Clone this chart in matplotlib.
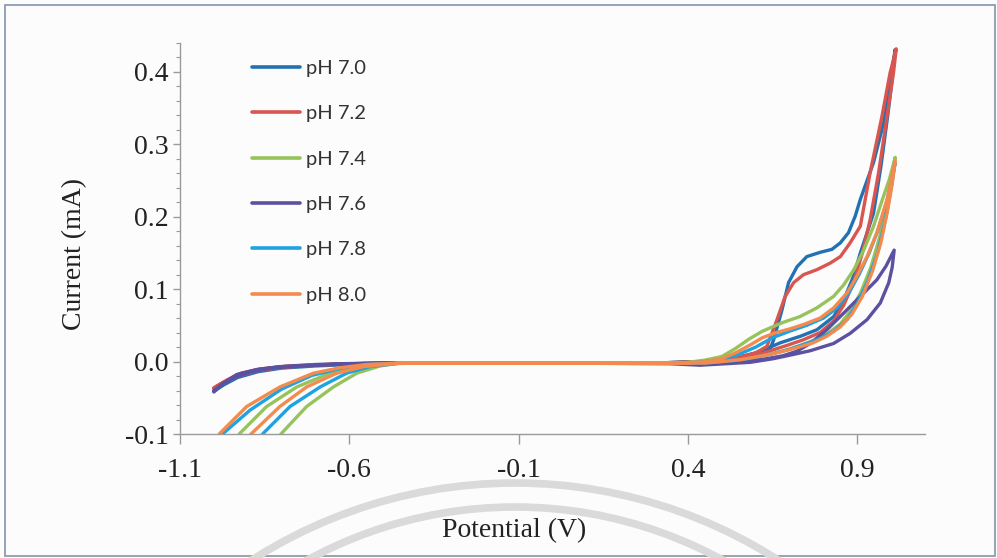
import numpy as np
import matplotlib
matplotlib.use("Agg")
import matplotlib.pyplot as plt
from matplotlib.patches import Arc, Rectangle
from matplotlib.ticker import MultipleLocator

# --- data (potential in V, current in mA) ---
labels = ["pH 7.0", "pH 7.2", "pH 7.4", "pH 7.6", "pH 7.8", "pH 8.0"]

E_70 = [-1.0, -0.97, -0.93, -0.87, -0.80, -0.70, -0.60, -0.50, -0.40, 0.0, 0.30, 0.45, 0.55, 0.60,
        0.622, 0.643, 0.653, 0.678, 0.697, 0.722, 0.751, 0.791, 0.825, 0.850, 0.874, 0.894, 0.909,
        0.948, 0.978, 1.012,
        1.003, 0.99, 0.97, 0.948, 0.929, 0.909, 0.889, 0.860, 0.830, 0.781, 0.732, 0.673, 0.643,
        0.60, 0.55, 0.50, 0.45, 0.30, 0.0, -0.40, -0.50, -0.60, -0.70, -0.80, -0.87, -0.93, -0.97, -1.0]
I_70 = [-0.040, -0.029, -0.018, -0.011, -0.007, -0.004, -0.003, -0.002, -0.002, -0.002, -0.002, 0.0, 0.006, 0.010,
        0.013, 0.018, 0.030, 0.072, 0.109, 0.131, 0.145, 0.151, 0.155, 0.164, 0.178, 0.201, 0.224,
        0.275, 0.330, 0.431,
        0.390, 0.340, 0.270, 0.205, 0.178, 0.150, 0.118, 0.085, 0.062, 0.044, 0.035, 0.026, 0.020,
        0.012, 0.006, 0.002, 0.0, -0.002, -0.002, -0.002, -0.003, -0.004, -0.006, -0.009, -0.014, -0.022, -0.032, -0.041]

E_72 = [-1.0, -0.96, -0.92, -0.86, -0.78, -0.68, -0.58, -0.50, -0.40, 0.0, 0.30, 0.45, 0.55, 0.60,
        0.633, 0.663, 0.687, 0.712, 0.741, 0.781, 0.820, 0.850, 0.879, 0.909, 0.938, 0.973, 0.997, 1.015,
        1.007, 0.988, 0.963, 0.938, 0.915, 0.89, 0.86, 0.83, 0.79, 0.74, 0.69, 0.65, 0.61, 0.56,
        0.50, 0.45, 0.30, 0.0, -0.40, -0.50, -0.60, -0.70, -0.80, -0.88, -0.94, -0.98, -1.0]
I_72 = [-0.036, -0.025, -0.016, -0.010, -0.006, -0.004, -0.003, -0.002, -0.002, -0.002, -0.002, 0.0, 0.006, 0.012,
        0.021, 0.058, 0.090, 0.109, 0.120, 0.127, 0.136, 0.145, 0.164, 0.187, 0.261, 0.339, 0.399, 0.432,
        0.399, 0.339, 0.261, 0.196, 0.150, 0.110, 0.078, 0.056, 0.040, 0.030, 0.022, 0.016, 0.010, 0.005,
        0.001, -0.001, -0.002, -0.002, -0.002, -0.002, -0.003, -0.005, -0.008, -0.013, -0.022, -0.031, -0.037]

E_74 = [-0.95, -0.923, -0.844, -0.755, -0.657, -0.568, -0.50, -0.45, 0.0, 0.35, 0.40, 0.45, 0.50, 0.54,
        0.58, 0.62, 0.65, 0.68, 0.73, 0.78, 0.83, 0.86, 0.89, 0.92, 0.948, 0.975, 0.995, 1.012,
        1.0, 0.985, 0.965, 0.94, 0.91, 0.88, 0.85, 0.81, 0.77, 0.73, 0.69, 0.65, 0.60, 0.55,
        0.50, 0.45, 0.0, -0.45, -0.509, -0.578, -0.647, -0.726, -0.800, -0.84]
I_74 = [-0.118, -0.099, -0.062, -0.035, -0.016, -0.007, -0.003, -0.002, -0.002, -0.002, -0.001, 0.002, 0.007, 0.018,
        0.031, 0.042, 0.048, 0.054, 0.062, 0.074, 0.090, 0.106, 0.127, 0.155, 0.187, 0.225, 0.252, 0.282,
        0.250, 0.210, 0.170, 0.130, 0.095, 0.070, 0.052, 0.038, 0.029, 0.022, 0.016, 0.011, 0.006, 0.002,
        0.0, -0.002, -0.002, -0.002, -0.006, -0.016, -0.035, -0.062, -0.099, -0.122]

E_76 = [-1.0, -0.972, -0.933, -0.874, -0.805, -0.706, -0.627, -0.509, -0.40, 0.0, 0.35, 0.436, 0.584,
        0.652, 0.682, 0.732, 0.761, 0.830, 0.879, 0.929, 0.968, 0.993, 1.003, 1.009,
        0.985, 0.958, 0.909, 0.860, 0.810, 0.761, 0.72, 0.68, 0.62, 0.55, 0.45, 0.0, -0.45, -0.55, -0.65,
        -0.75, -0.83, -0.89, -0.94, -0.975, -1.0]
I_76 = [-0.042, -0.030, -0.018, -0.011, -0.007, -0.005, -0.003, -0.002, -0.002, -0.002, -0.003, -0.005, -0.001,
        0.004, 0.007, 0.012, 0.015, 0.025, 0.039, 0.058, 0.081, 0.109, 0.130, 0.154,
        0.132, 0.113, 0.090, 0.067, 0.044, 0.025, 0.014, 0.008, 0.003, 0.0, -0.002, -0.002, -0.002, -0.003, -0.004,
        -0.006, -0.009, -0.014, -0.022, -0.031, -0.040]

E_78 = [-1.0, -0.972, -0.893, -0.80, -0.71, -0.62, -0.54, -0.45, 0.0, 0.40, 0.45, 0.50, 0.55, 0.60,
        0.65, 0.70, 0.75, 0.80, 0.84, 0.875, 0.905, 0.935, 0.96, 0.988, 1.012,
        1.0, 0.985, 0.96, 0.93, 0.90, 0.87, 0.83, 0.79, 0.75, 0.70, 0.65, 0.60, 0.55, 0.50, 0.45,
        0.0, -0.45, -0.539, -0.608, -0.686, -0.775, -0.854, -0.88]
I_78 = [-0.115, -0.099, -0.067, -0.038, -0.019, -0.009, -0.004, -0.002, -0.002, -0.002, 0.0, 0.003, 0.010, 0.020,
        0.033, 0.042, 0.050, 0.060, 0.074, 0.095, 0.120, 0.150, 0.180, 0.222, 0.275,
        0.240, 0.200, 0.150, 0.110, 0.080, 0.058, 0.042, 0.032, 0.025, 0.017, 0.011, 0.006, 0.002, 0.0, -0.002,
        -0.002, -0.002, -0.007, -0.016, -0.035, -0.062, -0.099, -0.115]

E_80 = [-1.0, -0.982, -0.903, -0.805, -0.706, -0.627, -0.549, -0.45, 0.0, 0.38, 0.45, 0.50, 0.54, 0.58,
        0.62, 0.66, 0.70, 0.74, 0.79, 0.83, 0.87, 0.899, 0.929, 0.958, 0.988, 1.012,
        1.003, 0.99, 0.97, 0.945, 0.915, 0.885, 0.85, 0.81, 0.77, 0.72, 0.67, 0.62, 0.56, 0.50, 0.45,
        0.0, -0.45, -0.558, -0.637, -0.726, -0.805, -0.888, -0.92]
I_80 = [-0.110, -0.099, -0.062, -0.035, -0.016, -0.0085, -0.004, -0.002, -0.002, -0.002, 0.0, 0.004, 0.012, 0.022,
        0.033, 0.040, 0.045, 0.051, 0.060, 0.074, 0.095, 0.118, 0.145, 0.178, 0.224, 0.277,
        0.245, 0.210, 0.165, 0.125, 0.090, 0.066, 0.048, 0.035, 0.026, 0.019, 0.013, 0.008, 0.003, 0.0, -0.002,
        -0.002, -0.002, -0.007, -0.016, -0.035, -0.062, -0.099, -0.115]

potentials = [E_70, E_72, E_74, E_76, E_78, E_80]
currents = [I_70, I_72, I_74, I_76, I_78, I_80]
colors = ["#2271b3", "#d95550", "#96c35c", "#5b51a0", "#1ea2e0", "#f28b4d"]

x_ticks = [-1.1, -0.6, -0.1, 0.4, 0.9]
x_tick_labels = ["-1.1", "-0.6", "-0.1", "0.4", "0.9"]
y_ticks = [-0.1, 0.0, 0.1, 0.2, 0.3, 0.4]
y_tick_labels = ["-0.1", "0.0", "0.1", "0.2", "0.3", "0.4"]

SERIF = "Liberation Serif"
AXIS_GREY = "#9a9a9a"
TEXT_SIZE = 20

fig = plt.figure(figsize=(9.97, 5.58), dpi=100)
fig.patch.set_facecolor("#fcfcfd")

# scan border and faint stamp arcs at the bottom
fig.add_artist(Rectangle((5 / 997, 2 / 558), 990 / 997, 551 / 558, transform=fig.transFigure,
                         fill=False, edgecolor="#8e9cb0", linewidth=1.3))
fig.add_artist(Arc((515 / 997, (558 - 971) / 558), 2 * 488 / 997, 2 * 488 / 558, theta1=20, theta2=160,
                   transform=fig.transFigure, color="#dadada", linewidth=5.5))
fig.add_artist(Arc((515 / 997, (558 - 940) / 558), 2 * 433 / 997, 2 * 433 / 558, theta1=20, theta2=160,
                   transform=fig.transFigure, color="#dadada", linewidth=5.5))

ax = fig.add_axes([180 / 997, (558 - 434) / 558, 745 / 997, 391 / 558])
ax.set_facecolor("none")

for E, I, c, lab in zip(potentials, currents, colors, labels):
    ax.plot(E, I, color=c, linewidth=2.4, label=lab, solid_capstyle="round", solid_joinstyle="round")

ax.set_xlim(-1.1, 1.1)
ax.set_ylim(-0.1, 0.44)

ax.spines["top"].set_visible(False)
ax.spines["right"].set_visible(False)
for s in ["left", "bottom"]:
    ax.spines[s].set_color(AXIS_GREY)
    ax.spines[s].set_linewidth(1.0)

ax.set_xticks(x_ticks)
ax.set_xticklabels(x_tick_labels)
ax.set_yticks(y_ticks)
ax.set_yticklabels(y_tick_labels)
ax.yaxis.set_minor_locator(MultipleLocator(0.02))

ax.tick_params(axis="x", which="major", direction="out", length=7, width=1, color=AXIS_GREY,
               pad=10, labelsize=TEXT_SIZE)
ax.tick_params(axis="y", which="major", direction="out", length=5, width=1, color=AXIS_GREY,
               pad=3, labelsize=TEXT_SIZE)
ax.tick_params(axis="y", which="minor", direction="out", length=3, width=0.8, color=AXIS_GREY)
for t in ax.get_xticklabels() + ax.get_yticklabels():
    t.set_fontfamily(SERIF)
    t.set_color("#222222")

ax.set_xlabel("Potential (V)", fontfamily=SERIF, fontsize=TEXT_SIZE, color="#222222")
ax.set_ylabel("Current (mA)", fontfamily=SERIF, fontsize=TEXT_SIZE, color="#222222")
ax.xaxis.set_label_coords(0.448, -0.215)
ax.yaxis.set_label_coords(-0.125, 0.46)

leg = ax.legend(loc="upper left", bbox_to_anchor=((252 - 180) / 745, (434 - 60) / 391),
                frameon=False, prop={"family": "Lato", "size": 14.5},
                handlelength=2.4, handletextpad=0.3, labelspacing=1.4, borderpad=0, borderaxespad=0)
for line in leg.get_lines():
    line.set_linewidth(2.6)
for t in leg.get_texts():
    t.set_color("#333333")

fig.savefig("out.png", dpi=100, facecolor=fig.get_facecolor())
